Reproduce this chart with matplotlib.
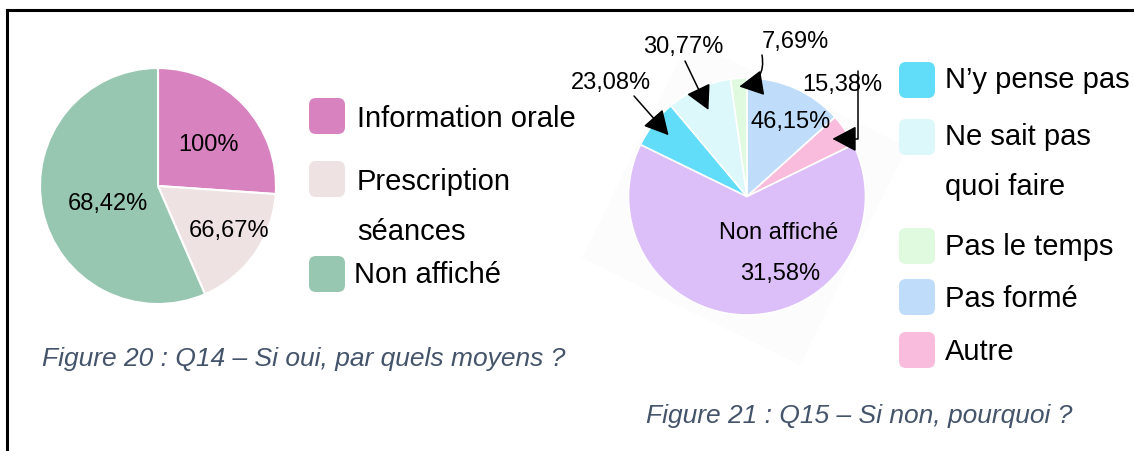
import matplotlib.pyplot as plt
from matplotlib.patches import FancyBboxPatch, Polygon
from matplotlib.lines import Line2D
from matplotlib.transforms import Affine2D
import numpy as np

plt.rcParams['font.family'] = ['Liberation Sans', 'DejaVu Sans']

W, H = 1134, 451

# Figure 20 : Q14
q14_labels = ['Information orale', 'Prescription\nséances', 'Non affiché']
q14_counts = [6, 4, 13]
q14_pct = ['100%', '66,67%', '68,42%']
q14_colors = ['#D883C0', '#EEE3E2', '#97C6B1']

# Figure 21 : Q15 (pie order, clockwise from top)
q15_order = ['Pas formé', 'Autre', 'Non affiché', "N’y pense pas",
             'Ne sait pas\nquoi faire', 'Pas le temps']
q15_counts = [6, 2, 29, 3, 4, 1]
q15_pct = ['46,15%', '15,38%', '31,58%', '23,08%', '30,77%', '7,69%']
q15_colors = ['#BFDDFA', '#F9BCDC', '#DCBFF8', '#62DDF9', '#DCF8FA', '#DFFADF']
q15_legend = ["N’y pense pas", 'Ne sait pas', 'quoi faire', 'Pas le temps',
              'Pas formé', 'Autre']

fig = plt.figure(figsize=(W / 100, H / 100), dpi=100)
fig.patch.set_facecolor('white')
# pixel coordinates, origin top-left
tpx = Affine2D().scale(1 / W, -1 / H).translate(0, 1) + fig.transFigure


def pie_axes(cx, cy, r):
    ax = fig.add_axes([(cx - r) / W, 1 - (cy + r) / H, 2 * r / W, 2 * r / H])
    ax.axis('off')
    return ax


def square(x, y, color):
    fig.patches.append(FancyBboxPatch((x + 5, y + 5), 26, 26,
                                      boxstyle='round,pad=5,rounding_size=7',
                                      fc=color, ec='none', transform=tpx))


# frame
fig.add_artist(Line2D([7, W], [10, 10], color='black', lw=2.2, transform=tpx))
fig.add_artist(Line2D([7, 7], [10, H], color='black', lw=2.2, transform=tpx))

# faint rotated backdrop behind right pie
fig.patches.append(Polygon([(689, 40), (907, 147), (800, 365), (582, 258)],
                           closed=True, fc='#FCFCFC', ec='none', transform=tpx,
                           zorder=-1))

# ---- left pie
ax1 = pie_axes(158, 186, 118)
ax1.pie(q14_counts, colors=q14_colors, startangle=90, counterclock=False,
        radius=1, wedgeprops=dict(edgecolor='white', linewidth=1.5))
ax1.set_xlim(-1, 1)
ax1.set_ylim(-1, 1)

for (x, y), t in zip([(209, 151), (229, 237), (108, 210)], q14_pct):
    fig.text(x, y, t, transform=tpx, fontsize=17, ha='center', va='baseline')

square(309, 98, q14_colors[0])
square(309, 161, q14_colors[1])
square(309, 256, q14_colors[2])
fig.text(357, 127, 'Information orale', transform=tpx, fontsize=21, va='baseline')
fig.text(357, 190, 'Prescription', transform=tpx, fontsize=21, va='baseline')
fig.text(357, 240, 'séances', transform=tpx, fontsize=21, va='baseline')
fig.text(354, 283, 'Non affiché', transform=tpx, fontsize=21, va='baseline')

fig.text(42, 366, 'Figure 20 : Q14 – Si oui, par quels moyens ?', transform=tpx,
         fontsize=19, style='italic', color='#44546A', va='baseline')

# ---- right pie
ax2 = pie_axes(747, 196.5, 118.5)
wedges, _ = ax2.pie(q15_counts, colors=q15_colors, startangle=90,
                    counterclock=False, radius=1,
                    wedgeprops=dict(edgecolor='white', linewidth=1.2))
ax2.set_xlim(-1, 1)
ax2.set_ylim(-1, 1)


def mid(w, r):
    a = np.deg2rad((w.theta1 + w.theta2) / 2)
    return (r * np.cos(a), r * np.sin(a))


arrow = dict(arrowstyle='-|>,head_length=0.75,head_width=0.4', color='black',
             lw=1.1, shrinkA=0, shrinkB=0, mutation_scale=20)
ax2.annotate('', xy=mid(wedges[3], 0.84), xytext=(634, 96), textcoords=tpx,
             arrowprops=arrow)
ax2.annotate('', xy=mid(wedges[4], 0.80), xytext=(685, 61), textcoords=tpx,
             arrowprops=arrow)
ax2.annotate('', xy=mid(wedges[5], 0.93), xytext=(762, 55), textcoords=tpx,
             arrowprops=dict(arrow, connectionstyle='arc3,rad=-0.5'))
ax2.annotate('', xy=mid(wedges[1], 0.87), xytext=(858, 71), textcoords=tpx,
             arrowprops=dict(arrow, connectionstyle='angle,angleA=90,angleB=0,rad=0'))

for (x, y), t in zip([(791, 128), (842, 91), (611, 89), (683, 53), (795, 48)],
                     [q15_pct[0], q15_pct[1], q15_pct[3], q15_pct[4], q15_pct[5]]):
    fig.text(x, y, t, transform=tpx, fontsize=17, ha='center', va='baseline')
fig.text(779, 239, 'Non affiché', transform=tpx, fontsize=17, ha='center', va='baseline')
fig.text(780, 280, q15_pct[2], transform=tpx, fontsize=17, ha='center', va='baseline')

for y, c in zip([62, 119, 228, 279, 332],
                [q15_colors[3], q15_colors[4], q15_colors[5], q15_colors[0], q15_colors[1]]):
    square(899, y, c)
for y, t in zip([88, 145, 195, 255, 307, 360], q15_legend):
    fig.text(945, y, t, transform=tpx, fontsize=21, va='baseline')

fig.text(646, 423, 'Figure 21 : Q15 – Si non, pourquoi ?', transform=tpx,
         fontsize=19, style='italic', color='#44546A', va='baseline')

fig.savefig('out.png', dpi=100)
